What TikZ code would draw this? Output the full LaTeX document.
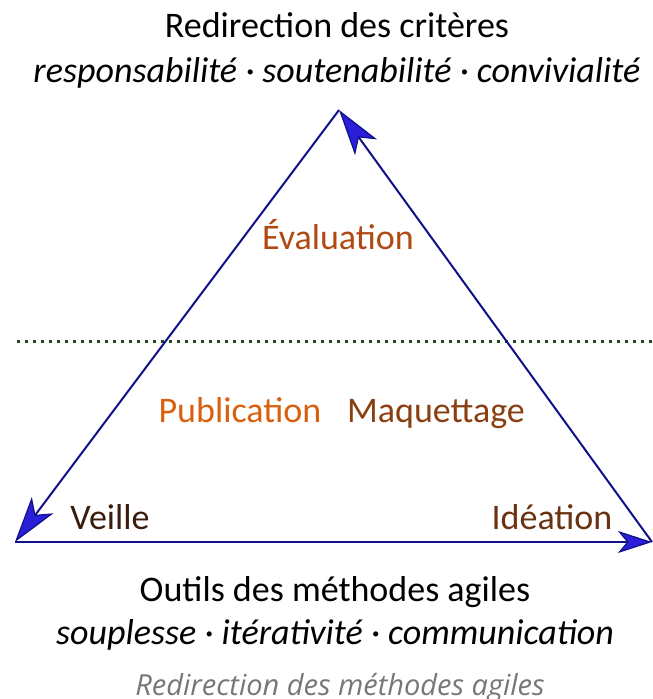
\documentclass[tikz,border=0pt]{standalone}
\usepackage{fontspec}
\setmainfont{Carlito}
\newfontfamily\notefont{Open Sans}
\usetikzlibrary{arrows.meta}
\definecolor{edgeblue}{HTML}{10108A}
\definecolor{tipblue}{HTML}{2A1ED8}
\definecolor{dotgreen}{HTML}{1E4A1E}
\definecolor{evalcol}{HTML}{B04A12}
\definecolor{pubcol}{HTML}{D8600E}
\definecolor{maqcol}{HTML}{8A3F10}
\definecolor{veilcol}{HTML}{3A1C0C}
\definecolor{ideacol}{HTML}{6A3210}
\definecolor{notegray}{HTML}{777777}
\begin{document}
\begin{tikzpicture}[x=1pt,y=-1pt,
  edge/.style={draw=edgeblue,line width=2pt,
    -{Stealth[length=46pt,width=27pt,inset=12pt,fill=tipblue,line width=1.2pt]}},
  shortedge/.style={draw=edgeblue,line width=2pt,
    -{Stealth[length=34pt,width=22pt,inset=9pt,fill=tipblue,line width=1.2pt]}},
  lab/.style={inner sep=0pt,anchor=base,font=\fontsize{36}{42}\selectfont},
  ilab/.style={inner sep=0pt,anchor=base,font=\fontsize{36}{42}\selectfont}]
\useasboundingbox (0,0) rectangle (653,699);
% vertices of the triangle
\coordinate (top) at (339,110);
\coordinate (bl) at (15,542);
\coordinate (br) at (652,542);
% horizontal dotted separator
\coordinate (sepL) at (17,341);
\coordinate (sepR) at (653,341);
\draw[dotgreen,line width=3pt,dash pattern=on 3pt off 5pt] (sepL) -- (sepR);
% cycle of arrows
\draw[shortedge] (bl) -- (br);
\draw[edge] (br) -- (top);
\draw[edge] (top) -- (bl);
% top caption
\node[lab] (crit) at (337,37) {Redirection des critères};
\node[lab] (critsub) at (337,82) {\itshape responsabilité · soutenabilité · convivialité};
% inner labels
\node[ilab,text=evalcol] (eval) at (338,249) {Évaluation};
\node[ilab,text=pubcol] (pub) at (240,422) {Publication};
\node[ilab,text=maqcol] (maq) at (436,422) {Maquettage};
\node[ilab,text=veilcol] (veil) at (110,529) {Veille};
\node[ilab,text=ideacol] (idea) at (552,529) {Idéation};
% bottom caption
\node[lab] (outils) at (335,601) {Outils des méthodes agiles};
\node[lab] (outsub) at (335,644) {\itshape souplesse · itérativité · communication};
\node[inner sep=0pt,anchor=base,text=notegray,font=\notefont\itshape\fontsize{29}{34}\selectfont] (note) at (340,695) {Redirection des méthodes agiles};
\end{tikzpicture}
\end{document}
